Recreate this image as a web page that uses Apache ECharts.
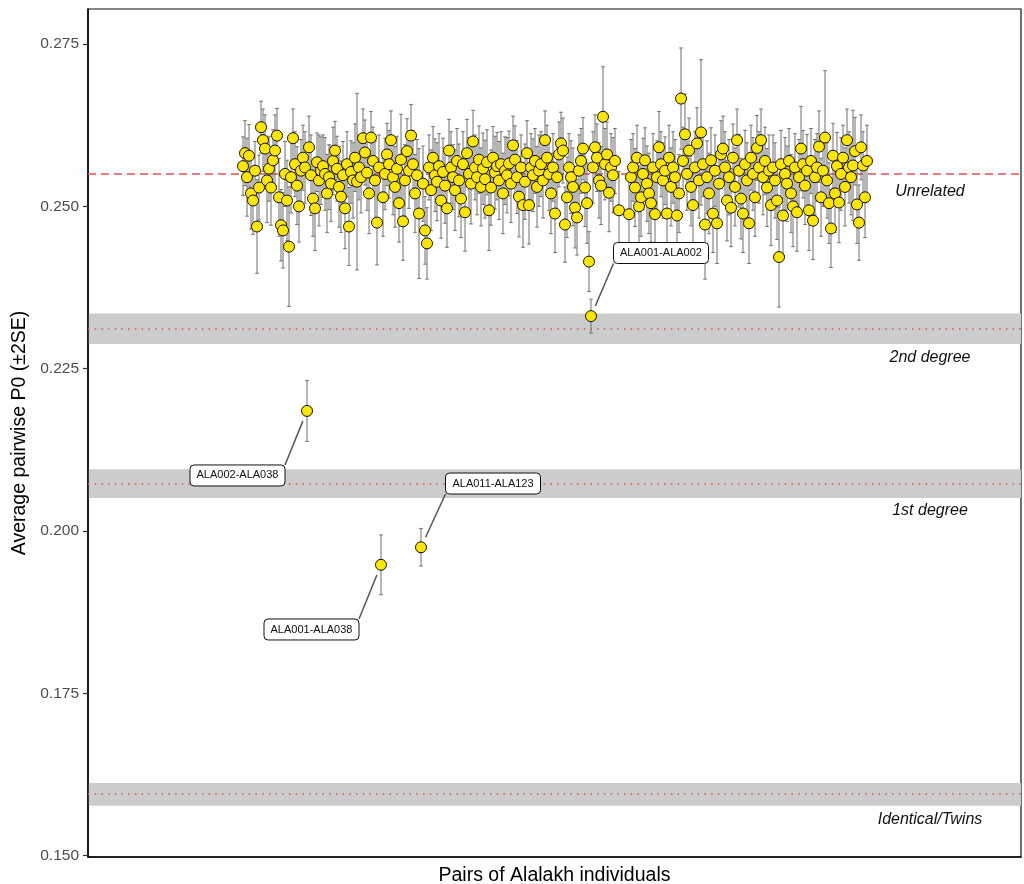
<!DOCTYPE html>
<html><head><meta charset="utf-8">
<script src="https://cdn.jsdelivr.net/npm/echarts@6/dist/echarts.min.js"></script>
<style>html,body{margin:0;padding:0;background:#fff}#chart{width:1024px;height:884px}</style>
</head><body><div id="chart"></div>
<script>
// ---------------- DATA ----------------
// Average pairwise P0 for each pair (index along x = pair order); null = no pair plotted there
const p0Values = [
 0.2562,0.2582,0.2545,0.2578,0.2520,0.2509,0.2555,0.2469,0.2529,0.2622,
 0.2602,0.2589,0.2540,0.2558,0.2529,0.2571,0.2586,0.2609,0.2514,0.2471,
 0.2463,0.2550,0.2509,0.2438,0.2545,0.2605,0.2565,0.2532,0.2500,0.2555,
 0.2575,0.2560,0.2185,0.2591,0.2548,0.2512,0.2497,0.2568,0.2540,0.2555,
 0.2562,0.2550,0.2520,0.2545,0.2535,0.2570,0.2586,0.2558,0.2530,0.2515,
 0.2548,0.2497,0.2565,0.2469,0.2553,0.2540,0.2575,0.2538,0.2560,0.2545,
 0.2605,0.2583,0.2552,0.2520,0.2606,0.2570,0.2540,0.2475,0.2560,0.1948,
 0.2514,0.2550,0.2580,0.2565,0.2602,0.2545,0.2530,0.2558,0.2505,0.2572,
 0.2477,0.2540,0.2585,0.2555,0.2609,0.2565,0.2520,0.2548,0.2489,0.1975,
 0.2535,0.2463,0.2443,0.2560,0.2525,0.2575,0.2548,0.2538,0.2562,0.2509,
 0.2553,0.2532,0.2497,0.2586,0.2560,0.2545,0.2525,0.2570,0.2540,0.2512,
 0.2565,0.2491,0.2582,0.2550,0.2535,0.2600,0.2560,0.2545,0.2572,0.2530,
 0.2558,0.2542,0.2568,0.2494,0.2529,0.2575,0.2552,0.2562,0.2540,0.2565,
 0.2520,0.2555,0.2548,0.2566,0.2535,0.2594,0.2572,0.2545,0.2515,0.2560,
 0.2502,0.2538,0.2582,0.2502,0.2560,0.2548,0.2570,0.2530,0.2555,0.2565,
 0.2540,0.2602,0.2575,0.2550,0.2520,0.2560,0.2489,0.2545,0.2580,0.2597,
 0.2586,0.2472,0.2514,0.2560,0.2545,0.2530,0.2498,0.2483,0.2555,0.2570,
 0.2589,0.2529,0.2505,0.2415,0.2331,0.2560,0.2591,0.2575,0.2540,0.2532,
 0.2638,0.2565,0.2580,0.2521,0.2560,0.2548,0.2570,null,0.2494,null,
 null,null,null,0.2488,0.2545,0.2560,0.2529,0.2575,0.2500,0.2514,
 0.2550,0.2571,0.2535,0.2520,0.2505,0.2560,0.2488,0.2545,0.2591,0.2565,
 0.2540,0.2555,0.2489,0.2575,0.2530,0.2560,0.2545,0.2486,0.2520,0.2666,
 0.2570,0.2611,0.2550,0.2586,0.2530,0.2502,0.2560,0.2597,0.2540,0.2614,
 0.2565,0.2472,0.2545,0.2520,0.2571,0.2489,0.2555,0.2474,0.2535,0.2580,
 0.2589,0.2560,0.2509,0.2545,0.2498,0.2575,0.2530,0.2602,0.2555,0.2512,
 0.2489,0.2565,0.2540,0.2474,0.2575,0.2550,0.2514,0.2590,0.2560,0.2602,
 0.2545,0.2570,0.2529,0.2555,0.2502,0.2560,0.2540,0.2509,0.2422,0.2565,
 0.2486,0.2550,0.2535,0.2570,0.2520,0.2500,0.2560,0.2491,0.2545,0.2589,
 0.2565,0.2532,0.2555,0.2494,0.2570,0.2478,0.2545,0.2560,0.2592,0.2514,
 0.2555,0.2606,0.2540,0.2505,0.2466,0.2578,0.2520,0.2562,0.2506,0.2550,
 0.2575,0.2530,0.2602,0.2560,0.2545,0.2563,0.2585,0.2503,0.2475,0.2591,
 0.2563,0.2514,0.2570
];
// 2*SE for each pair (same order)
const p0TwoSE = [
 0.0045,0.0050,0.0060,0.0048,0.0055,0.0052,0.0045,0.0072,0.0050,0.0040,
 0.0048,0.0052,0.0065,0.0050,0.0058,0.0047,0.0055,0.0042,0.0060,0.0055,
 0.0058,0.0050,0.0062,0.0092,0.0055,0.0045,0.0050,0.0060,0.0055,0.0048,
 0.0050,0.0055,0.0047,0.0048,0.0062,0.0058,0.0065,0.0045,0.0070,0.0052,
 0.0048,0.0056,0.0060,0.0050,0.0058,0.0052,0.0045,0.0050,0.0062,0.0055,
 0.0052,0.0062,0.0050,0.0060,0.0048,0.0058,0.0052,0.0136,0.0050,0.0055,
 0.0045,0.0050,0.0058,0.0062,0.0040,0.0052,0.0060,0.0065,0.0050,0.0046,
 0.0060,0.0055,0.0048,0.0052,0.0045,0.0058,0.0062,0.0050,0.0060,0.0070,
 0.0060,0.0055,0.0050,0.0058,0.0048,0.0052,0.0060,0.0055,0.0100,0.0029,
 0.0058,0.0052,0.0055,0.0050,0.0062,0.0048,0.0056,0.0060,0.0050,0.0058,
 0.0052,0.0058,0.0060,0.0048,0.0055,0.0050,0.0062,0.0050,0.0056,0.0060,
 0.0050,0.0060,0.0052,0.0056,0.0062,0.0048,0.0050,0.0058,0.0052,0.0060,
 0.0055,0.0060,0.0050,0.0062,0.0058,0.0048,0.0056,0.0052,0.0060,0.0050,
 0.0062,0.0052,0.0058,0.0050,0.0060,0.0045,0.0052,0.0056,0.0062,0.0050,
 0.0065,0.0058,0.0050,0.0060,0.0052,0.0056,0.0050,0.0062,0.0055,0.0050,
 0.0058,0.0045,0.0050,0.0056,0.0062,0.0052,0.0060,0.0055,0.0050,0.0048,
 0.0050,0.0058,0.0062,0.0052,0.0056,0.0060,0.0062,0.0058,0.0055,0.0050,
 0.0048,0.0060,0.0062,0.0046,0.0026,0.0055,0.0050,0.0052,0.0058,0.0060,
 0.0077,0.0055,0.0050,0.0060,0.0052,0.0058,0.0050,null,0.0060,null,
 null,null,null,0.0060,0.0058,0.0052,0.0060,0.0050,0.0062,0.0060,
 0.0055,0.0050,0.0058,0.0062,0.0060,0.0052,0.0065,0.0056,0.0055,0.0050,
 0.0058,0.0052,0.0062,0.0050,0.0060,0.0055,0.0058,0.0062,0.0060,0.0078,
 0.0052,0.0062,0.0056,0.0050,0.0060,0.0062,0.0055,0.0055,0.0058,0.0112,
 0.0050,0.0084,0.0056,0.0062,0.0050,0.0060,0.0055,0.0062,0.0058,0.0052,
 0.0050,0.0055,0.0062,0.0058,0.0060,0.0052,0.0060,0.0048,0.0056,0.0062,
 0.0060,0.0052,0.0058,0.0062,0.0050,0.0056,0.0060,0.0050,0.0055,0.0048,
 0.0058,0.0052,0.0060,0.0055,0.0062,0.0050,0.0058,0.0060,0.0077,0.0052,
 0.0062,0.0056,0.0058,0.0050,0.0060,0.0062,0.0052,0.0060,0.0058,0.0065,
 0.0052,0.0060,0.0056,0.0062,0.0050,0.0060,0.0058,0.0052,0.0055,0.0060,
 0.0055,0.0103,0.0058,0.0062,0.0060,0.0050,0.0060,0.0052,0.0062,0.0056,
 0.0050,0.0060,0.0048,0.0055,0.0058,0.0085,0.0052,0.0060,0.0058,0.0050,
 0.0052,0.0062,0.0055
];
// Relatedness thresholds
const relationNames  = ['Unrelated', '2nd degree', '1st degree', 'Identical/Twins'];
const relationP0     = [0.2551, 0.2312, 0.2073, 0.1595];
const relationBandLo = [null, 0.2288, 0.2051, 0.1577];
const relationBandHi = [null, 0.2335, 0.2095, 0.1612];
// Labelled pairs
const labelNames     = ['ALA002-ALA038', 'ALA001-ALA038', 'ALA011-ALA123', 'ALA001-ALA002'];
const labelPairIndex = [32, 69, 89, 174];
// Y tick labels
const yTicks = [0.150, 0.175, 0.200, 0.225, 0.250, 0.275];

// ---------------- LAYOUT ----------------
const layout = {
  xMin: -77.5, xMax: 389, yMin: 0.1498, yMax: 0.2804,
  relationTextX: 343.5,
  relationTextDy: [18, 29, 27, 26],
  labelBoxCenter: [[-2.75, 0.20856], [34.25, 0.18484], [125, 0.20732], [209, 0.24282]],
  boxW: 95, boxH: 21
};
const FONT = '"Liberation Sans", Arial, Helvetica, sans-serif';

const pointData = [], barData = [];
p0Values.forEach((v, i) => {
  if (v == null) return;
  pointData.push([i, v]);
  barData.push([i, v, p0TwoSE[i]]);
});
const labelData = labelNames.map((n, k) => {
  const i = labelPairIndex[k];
  return [i, p0Values[i], layout.labelBoxCenter[k][0], layout.labelBoxCenter[k][1]];
});

const markLines = relationP0.map((v, k) => ({
  yAxis: v,
  lineStyle: k === 0
    ? { type: [8, 5], color: '#d9534f', width: 1.5 }
    : { type: [1.5, 5.2], color: '#d9534f', width: 1.5 }
}));
const markAreas = [];
relationBandLo.forEach((lo, k) => {
  if (lo == null) return;
  markAreas.push([{ yAxis: lo }, { yAxis: relationBandHi[k] }]);
});

const chart = echarts.init(document.getElementById('chart'), null, { renderer: 'canvas' });
chart.setOption({
  animation: false,
  backgroundColor: '#fff',
  grid: { left: 88, right: 3, top: 9, bottom: 27, show: true, borderColor: '#111', borderWidth: 1.2,
    containLabel: false, outerBoundsMode: 'none' },
  xAxis: {
    type: 'value', min: layout.xMin, max: layout.xMax,
    name: 'Pairs of Alalakh individuals', nameLocation: 'middle', nameGap: 9,
    nameTextStyle: { fontSize: 19.5, color: '#000', fontFamily: FONT },
    axisLine: { show: true, onZero: false, lineStyle: { color: '#000', width: 1.5 } },
    axisTick: { show: false }, axisLabel: { show: false }, splitLine: { show: false }
  },
  yAxis: {
    type: 'value', min: layout.yMin, max: layout.yMax,
    name: 'Average pairwise P0 (\u00b12SE)', nameLocation: 'middle', nameGap: 52,
    nameTextStyle: { fontSize: 19.5, color: '#000', fontFamily: FONT },
    axisLine: { show: true, onZero: false, lineStyle: { color: '#000', width: 1.5 } },
    axisTick: { show: true, length: 5, customValues: yTicks, lineStyle: { color: '#333', width: 1.2 } },
    axisLabel: { show: true, customValues: yTicks, margin: 9, fontSize: 15.5, color: '#4d4d4d', fontFamily: FONT,
      formatter: v => Number(v).toFixed(3) },
    splitLine: { show: false }
  },
  series: [
    {
      type: 'scatter', name: 'thresholds', data: [], z: 1, silent: true,
      markArea: { silent: true, z: 0, itemStyle: { color: '#cccccc' }, data: markAreas },
      markLine: { silent: true, z: 1, precision: 5, symbol: ['none', 'none'], label: { show: false }, data: markLines }
    },
    {
      type: 'custom', name: 'errorbars', z: 2, silent: true,
      renderItem: (params, api) => {
        const x = api.value(0), v = api.value(1), e = api.value(2);
        const t = api.coord([x, v + e]), b = api.coord([x, v - e]);
        const cw = 1.8, st = { stroke: '#6e6e6e', lineWidth: 1 };
        return { type: 'group', children: [
          { type: 'line', shape: { x1: t[0], y1: t[1], x2: b[0], y2: b[1] }, style: st },
          { type: 'line', shape: { x1: t[0] - cw, y1: t[1], x2: t[0] + cw, y2: t[1] }, style: st },
          { type: 'line', shape: { x1: b[0] - cw, y1: b[1], x2: b[0] + cw, y2: b[1] }, style: st }
        ]};
      },
      data: barData
    },
    {
      type: 'scatter', name: 'pairs', z: 3, silent: true,
      symbol: 'circle', symbolSize: 11,
      itemStyle: { color: '#FFE600', borderColor: '#111', borderWidth: 1, opacity: 1 },
      data: pointData
    },
    {
      type: 'custom', name: 'relationText', z: 4, silent: true,
      renderItem: (params, api) => {
        const k = params.dataIndex;
        const c = api.coord([api.value(0), api.value(1)]);
        return { type: 'text', style: {
          x: c[0], y: c[1] + layout.relationTextDy[k], text: relationNames[k],
          textAlign: 'center', textVerticalAlign: 'middle',
          font: 'italic 16px ' + FONT, fill: '#111' } };
      },
      data: relationP0.map(v => [layout.relationTextX, v])
    },
    {
      type: 'custom', name: 'pairLabels', z: 5, silent: true,
      renderItem: (params, api) => {
        const k = params.dataIndex;
        const p = api.coord([api.value(0), api.value(1)]);
        const c = api.coord([api.value(2), api.value(3)]);
        const w = layout.boxW, h = layout.boxH;
        const x0 = c[0] - w / 2, y0 = c[1] - h / 2, x1 = x0 + w, y1 = y0 + h;
        const ex = Math.min(Math.max(p[0], x0), x1), ey = Math.min(Math.max(p[1], y0), y1);
        const dx = ex - p[0], dy = ey - p[1], d = Math.hypot(dx, dy) || 1;
        const sx = p[0] + dx / d * 11, sy = p[1] + dy / d * 11;
        return { type: 'group', children: [
          { type: 'line', shape: { x1: sx, y1: sy, x2: ex, y2: ey }, style: { stroke: '#555', lineWidth: 1.5 } },
          { type: 'rect', shape: { x: x0, y: y0, width: w, height: h, r: 4 }, style: { fill: '#fff', stroke: '#111', lineWidth: 1 } },
          { type: 'text', style: { x: c[0], y: c[1], text: labelNames[k], textAlign: 'center', textVerticalAlign: 'middle',
              font: '11px ' + FONT, fill: '#111' } }
        ]};
      },
      data: labelData
    }
  ]
});
</script>
</body></html>
